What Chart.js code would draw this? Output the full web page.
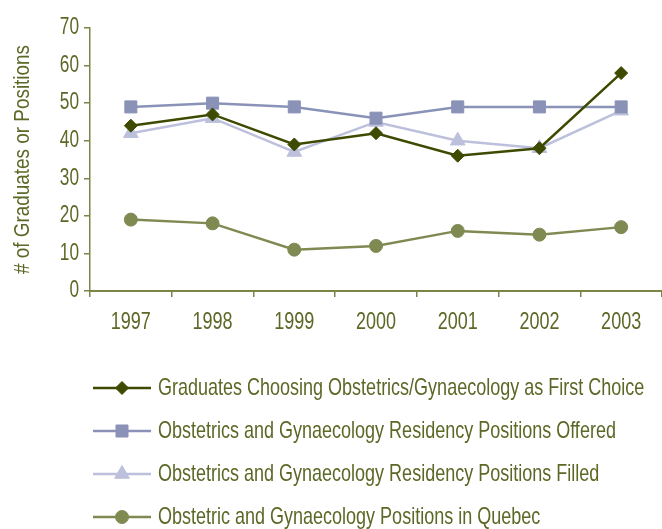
<!DOCTYPE html>
<html>
<head>
<meta charset="utf-8">
<script src="https://cdn.jsdelivr.net/npm/chart.js@4/dist/chart.umd.min.js"></script>
<style>
html,body{margin:0;padding:0;background:#fff;}
#wrap{width:662px;height:529px;position:relative;}
</style>
</head>
<body>
<div id="wrap"><canvas id="c" width="662" height="529"></canvas></div>
<script>
const years = ['1997','1998','1999','2000','2001','2002','2003'];
const graduatesFirstChoice = [44, 47, 39, 42, 36, 38, 58];
const positionsOffered = [49, 50, 49, 46, 49, 49, 49];
const positionsFilled = [42, 46, 37, 45, 40, 38, 48];
const positionsQuebec = [19, 18, 11, 12, 16, 15, 17];
const seriesNames = [
  'Graduates Choosing Obstetrics/Gynaecology as First Choice',
  'Obstetrics and Gynaecology Residency Positions Offered',
  'Obstetrics and Gynaecology Residency Positions Filled',
  'Obstetric and Gynaecology Positions in Quebec'
];
const yTitle = '# of Graduates or Positions';

const FONT = "'Liberation Sans', Arial, sans-serif";
const TEXT = '#5b6826';
const AXIS = '#7c8448';
const styles = [
  {color:'#3d4a00', point:'rectRot', r:6.5},
  {color:'#8a92b8', point:'rect', r:8.5},
  {color:'#bcc0dc', point:'triangle', r:8.5},
  {color:'#7f8a52', point:'circle', r:6.5}
];

// reference uses a condensed face: condense the installed sans horizontally
function condense(font){ return font.indexOf('22.5px') >= 0 ? 0.84 : 0.75; }
const canvas = document.getElementById('c');
const cctx = canvas.getContext('2d');
const origFill = cctx.fillText.bind(cctx);
const origMeasure = cctx.measureText.bind(cctx);
cctx.fillText = function(text, x, y, maxWidth){
  const sx = condense(this.font);
  this.save();
  this.translate(x, y);
  this.scale(sx, 1);
  if (maxWidth !== undefined) origFill(text, 0, 0, maxWidth / sx); else origFill(text, 0, 0);
  this.restore();
};
cctx.measureText = function(text){
  const sx = condense(this.font);
  const m = origMeasure(text);
  return {
    width: m.width * sx,
    actualBoundingBoxAscent: m.actualBoundingBoxAscent,
    actualBoundingBoxDescent: m.actualBoundingBoxDescent,
    actualBoundingBoxLeft: m.actualBoundingBoxLeft * sx,
    actualBoundingBoxRight: m.actualBoundingBoxRight * sx
  };
};

function sample(st){
  const cv = document.createElement('canvas');
  cv.width = 58; cv.height = 18;
  const ctx = cv.getContext('2d');
  ctx.strokeStyle = st.color; ctx.lineWidth = 2.5;
  ctx.beginPath(); ctx.moveTo(0,9); ctx.lineTo(58,9); ctx.stroke();
  ctx.fillStyle = st.color; ctx.strokeStyle = st.color; ctx.lineWidth = 1;
  Chart.helpers.drawPoint(ctx, {pointStyle: st.point, radius: st.r, rotation: 0, borderWidth: 1}, 29, 9);
  return cv;
}

const allData = [graduatesFirstChoice, positionsOffered, positionsFilled, positionsQuebec];
const datasets = allData.map((d,i)=>({
  label: seriesNames[i],
  data: d,
  borderColor: styles[i].color,
  backgroundColor: styles[i].color,
  pointBackgroundColor: styles[i].color,
  pointBorderColor: styles[i].color,
  pointStyle: styles[i].point,
  pointRadius: styles[i].r,
  pointHoverRadius: styles[i].r,
  borderWidth: 2.5,
  pointBorderWidth: 1,
  tension: 0,
  clip: false,
  order: i
}));

const legendShift = {
  id: 'legendShift',
  afterLayout(chart){
    const lg = chart.legend;
    lg.left += 79; lg.right += 79;
    lg.top += 10; lg.bottom += 10;
  }
};

new Chart(canvas, {
  type: 'line',
  data: { labels: years, datasets },
  plugins: [legendShift],
  options: {
    responsive: false,
    animation: false,
    layout: { autoPadding: false, padding: { top: 28, right: 0, left: 0, bottom: 0 } },
    plugins: {
      tooltip: { enabled: false },
      legend: {
        position: 'bottom',
        align: 'start',
        labels: {
          usePointStyle: true,
          pointStyleWidth: 48,
          padding: 19,
          color: TEXT,
          font: { family: FONT, size: 24 },
          generateLabels(chart){
            return chart.data.datasets.map((ds,i)=>({
              text: ds.label,
              fillStyle: ds.borderColor,
              strokeStyle: ds.borderColor,
              fontColor: TEXT,
              lineWidth: 0,
              pointStyle: sample(styles[i]),
              datasetIndex: i,
              hidden: false
            }));
          }
        }
      }
    },
    scales: {
      x: {
        offset: true,
        afterFit(scale){ scale.height = 56; scale.paddingLeft = 0; scale.paddingRight = 0; },
        grid: { offset: true, drawOnChartArea: false, drawTicks: true, tickLength: 6, color: AXIS, lineWidth: 1.5 },
        border: { display: true, color: AXIS, width: 2 },
        ticks: { color: TEXT, font: { family: FONT, size: 24 }, padding: 11, maxRotation: 0 }
      },
      y: {
        min: 0, max: 70,
        afterFit(scale){ scale.width = 90; },
        grid: { drawOnChartArea: false, drawTicks: true, tickLength: 6, color: AXIS, lineWidth: 1.5 },
        border: { display: true, color: AXIS, width: 1.5 },
        ticks: { stepSize: 10, color: TEXT, font: { family: FONT, size: 23 }, padding: 5 },
        title: { display: true, text: yTitle, color: TEXT, font: { family: FONT, size: 22.5 }, padding: { top: 9, bottom: 0 } }
      }
    }
  }
});
</script>
</body>
</html>
